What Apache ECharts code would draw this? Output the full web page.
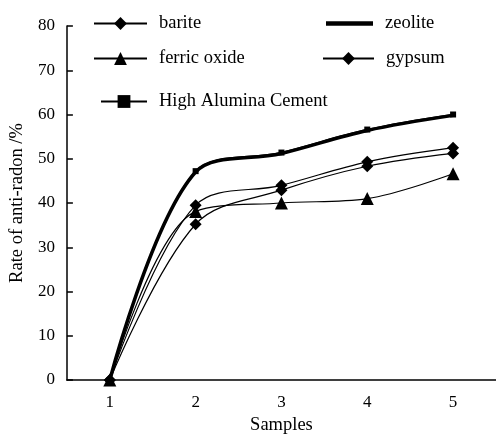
<!DOCTYPE html>
<html>
<head>
<meta charset="UTF-8">
<script src="https://cdn.jsdelivr.net/npm/echarts@6/dist/echarts.min.js"></script>
<style>html,body{margin:0;padding:0;background:#fff}</style>
</head>
<body>
<div id="chart" style="width:496px;height:440px;"></div>
<script type="text/javascript">
    var samples = ['1', '2', '3', '4', '5'];
    var barite = [0, 39.5, 44.0, 49.3, 52.5];
    var zeolite = [0, 47.0, 51.2, 56.4, 59.8];
    var ferricOxide = [0, 38.1, 40.0, 41.0, 46.6];
    var gypsum = [0, 35.2, 42.9, 48.3, 51.2];
    var alumina = [0, 47.2, 51.4, 56.6, 60.0];

    var font = 'Liberation Serif';
    function legendAt(name, left, top, width, icon) {
        var item = {name: name};
        if (icon) item.icon = icon;
        return {
            data: [item],
            left: left,
            top: top,
            padding: 0,
            itemWidth: width,
            itemHeight: 16,
            itemGap: 0,
            textStyle: {fontFamily: font, fontSize: 18.5, color: '#000', padding: [0, 0, 0, 7]}
        };
    }
    function line(name, data, symbol, size, width) {
        return {
            name: name,
            type: 'line',
            smooth: 0.35,
            data: data,
            symbol: symbol,
            symbolSize: size,
            showSymbol: symbol !== 'none',
            lineStyle: {color: '#000', width: width},
            itemStyle: {color: '#000'}
        };
    }

    var option = {
        animation: false,
        legend: [
            legendAt('barite', 93, 14, 53),
            legendAt('zeolite', 326, 14, 47, 'path://M0,0 L10,0 L10,1 L0,1 Z'),
            legendAt('ferric oxide', 93, 49, 53),
            legendAt('gypsum', 322, 49, 51),
            legendAt('High Alumina Cement', 100, 92, 46)
        ],
        grid: {left: 66, top: 26, right: 0, bottom: 57},
        xAxis: {
            type: 'category',
            data: samples,
            boundaryGap: true,
            name: 'Samples',
            nameLocation: 'middle',
            nameGap: 36,
            nameTextStyle: {fontFamily: font, fontSize: 18.5, color: '#000'},
            axisLine: {lineStyle: {color: '#000', width: 1.5}},
            axisTick: {inside: true, length: 6, lineStyle: {color: '#000', width: 1.5}},
            axisLabel: {fontFamily: font, fontSize: 17, color: '#000', margin: 14}
        },
        yAxis: {
            type: 'value',
            min: 0,
            max: 80,
            interval: 10,
            name: 'Rate of anti-radon /%',
            nameLocation: 'middle',
            nameGap: 35,
            nameTextStyle: {fontFamily: font, fontSize: 18.5, color: '#000'},
            splitLine: {show: false},
            axisLine: {show: true, lineStyle: {color: '#000', width: 1.5}},
            axisTick: {show: true, inside: true, length: 6, lineStyle: {color: '#000', width: 1.5}},
            axisLabel: {fontFamily: font, fontSize: 17, color: '#000', margin: 12}
        },
        series: [
            line('barite', barite, 'diamond', 12, 1.2),
            line('zeolite', zeolite, 'none', 0, 3.5),
            line('ferric oxide', ferricOxide, 'triangle', 13, 1.2),
            line('gypsum', gypsum, 'diamond', 12, 1.2),
            line('High Alumina Cement', alumina, 'rect', 6, 1.5)
        ]
    };
    var myChart = echarts.init(document.getElementById('chart'));
    myChart.setOption(option);
</script>
</body>
</html>
